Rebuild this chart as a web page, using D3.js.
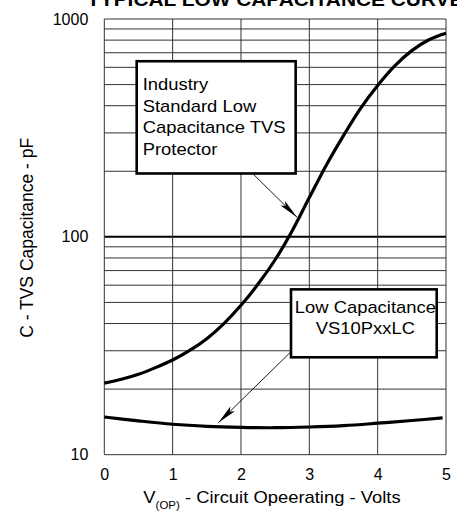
<!DOCTYPE html>
<html>
<head>
<meta charset="utf-8">
<script src="https://cdn.jsdelivr.net/npm/d3@7"></script>
<style>
  html, body { margin: 0; padding: 0; background: #fff; }
  svg { display: block; }
  text { font-family: "Liberation Sans", Arial, Helvetica, sans-serif; fill: #000; }
</style>
</head>
<body>
<svg id="chart" width="457" height="519"></svg>
<script>
// ---- data ----
const volts = [0, 0.25, 0.5, 0.75, 1.0, 1.25, 1.5, 1.75, 2.0, 2.25, 2.5, 2.75, 3.0, 3.25, 3.5, 3.75, 4.0, 4.25, 4.5, 4.75, 5.0];
const industryCap = [21.3, 22.2, 23.4, 25.1, 27.2, 30.1, 34.1, 40.0, 48.5, 60.7, 78.5, 106.7, 151.4, 213.8, 291.7, 389, 495.5, 609.5, 716, 803.5, 861];
const lowVolts = [0, 0.5, 1.0, 1.5, 2.0, 2.5, 3.0, 3.5, 4.0, 4.5, 4.95];
const lowCap = [14.9, 14.3, 13.8, 13.5, 13.35, 13.3, 13.4, 13.6, 13.95, 14.35, 14.75];
const xTicks = [0, 1, 2, 3, 4, 5];
const yMajor = [10, 100, 1000];
const yMinor = [20, 30, 40, 50, 60, 70, 80, 90, 200, 300, 400, 500, 600, 700, 800, 900];
const titleText = "TYPICAL LOW CAPACITANCE CURVE";
const yTitle = "C - TVS Capacitance - pF";
const xTitleMain = "V";
const xTitleSub = "(OP)";
const xTitleRest = " - Circuit Opeerating - Volts";
const box1Lines = ["Industry", "Standard Low", "Capacitance TVS", "Protector"];
const box2Lines = ["Low Capacitance", "VS10PxxLC"];

// ---- layout ----
const svg = d3.select("#chart");
const L = 104.3, R = 446, T = 19, B = 454.7;
const x = d3.scaleLinear().domain([0, 5]).range([L, R]);
const y = d3.scaleLog().domain([10, 1000]).range([B, T]);
const SX = 1.15; // horizontal text stretch of the original artwork

// grid
const grid = svg.append("g");
grid.selectAll("line.h").data(yMinor.concat(yMajor)).join("line")
  .attr("x1", L).attr("x2", R)
  .attr("y1", d => y(d)).attr("y2", d => y(d))
  .attr("stroke", d => d === 100 ? "#000" : "#333")
  .attr("stroke-width", d => d === 100 ? 2 : 1);
grid.selectAll("line.v").data(xTicks).join("line")
  .attr("x1", d => x(d)).attr("x2", d => x(d))
  .attr("y1", T).attr("y2", B)
  .attr("stroke", "#333").attr("stroke-width", 1);

// axes labels
const yAxis = d3.axisLeft(y).tickValues(yMajor).tickFormat(d3.format("d")).tickSize(0).tickPadding(16);
svg.append("g").attr("transform", `translate(${L},0)`).call(yAxis)
  .call(g => g.select(".domain").remove())
  .selectAll("text").attr("font-size", 16).attr("font-family", "Liberation Sans, Arial, sans-serif").attr("fill", "#000");
const xAxis = d3.axisBottom(x).tickValues(xTicks).tickFormat(d3.format("d")).tickSize(0).tickPadding(14);
svg.append("g").attr("transform", `translate(0,${B})`).call(xAxis)
  .call(g => g.select(".domain").remove())
  .selectAll("text").attr("font-size", 16).attr("font-family", "Liberation Sans, Arial, sans-serif").attr("fill", "#000");

// curves
const line = d3.line().x(d => x(d[0])).y(d => y(d[1])).curve(d3.curveCatmullRom.alpha(0.5));
svg.append("path").datum(volts.map((v, i) => [v, industryCap[i]]))
  .attr("d", line).attr("fill", "none").attr("stroke", "#000").attr("stroke-width", 3.2);
svg.append("path").datum(lowVolts.map((v, i) => [v, lowCap[i]]))
  .attr("d", line).attr("fill", "none").attr("stroke", "#000").attr("stroke-width", 3.2);

// arrow marker
svg.append("defs").append("marker")
  .attr("id", "arr").attr("markerUnits", "userSpaceOnUse")
  .attr("markerWidth", 24).attr("markerHeight", 10)
  .attr("viewBox", "-22 -5 24 10").attr("refX", 0).attr("refY", 0)
  .attr("orient", "auto")
  .append("path").attr("d", "M0,0 L-20,-3.2 L-16,0 L-20,3.2 Z").attr("fill", "#000");

// annotation boxes (in data units)
function box(v0, v1, c0, c1) {
  svg.append("rect")
    .attr("x", x(v0)).attr("y", y(c0))
    .attr("width", x(v1) - x(v0)).attr("height", y(c1) - y(c0))
    .attr("fill", "#fff").attr("stroke", "#000").attr("stroke-width", 2.6);
}
function arrow(v0, c0, v1, c1) {
  svg.append("line")
    .attr("x1", x(v0)).attr("y1", y(c0)).attr("x2", x(v1)).attr("y2", y(c1))
    .attr("stroke", "#000").attr("stroke-width", 0.9)
    .attr("marker-end", "url(#arr)");
}
arrow(2.18, 194, 2.82, 123);
arrow(2.717, 29.4, 1.668, 14.0);
box(0.474, 2.80, 640, 195.4);
box(2.732, 4.864, 57.4, 28.0);

function stretchedText(px, py, str, size, anchor, weight, sx) {
  svg.append("text")
    .attr("transform", `translate(${px},${py}) scale(${sx || SX},1)`)
    .attr("text-anchor", anchor || "start")
    .attr("font-size", size)
    .attr("font-weight", weight || "normal")
    .text(str);
}
box1Lines.forEach((s, i) => stretchedText(142.7, 90 + i * 21.67, s, 16, "start"));
const b2c = (x(2.732) + x(4.864)) / 2;
box2Lines.forEach((s, i) => stretchedText(b2c + 1.5, 313.3 + i * 21, s, 16, "middle"));

// title (clipped at top in original)
stretchedText(87, 5.5, titleText, 18, "start", "bold", 1.16);

// y title
svg.append("text")
  .attr("transform", `translate(32.5,${(T + B) / 2 + 1}) rotate(-90)`)
  .attr("text-anchor", "middle").attr("font-size", 17.5)
  .text(yTitle);

// x title with subscript
const xt = svg.append("text")
  .attr("transform", `translate(143.3,503.3) scale(${SX},1)`)
  .attr("font-size", 16);
xt.append("tspan").text(xTitleMain);
xt.append("tspan").attr("font-size", 10).attr("dy", 5.5).text(xTitleSub);
xt.append("tspan").attr("dy", -5.5).text(xTitleRest);
</script>
</body>
</html>
